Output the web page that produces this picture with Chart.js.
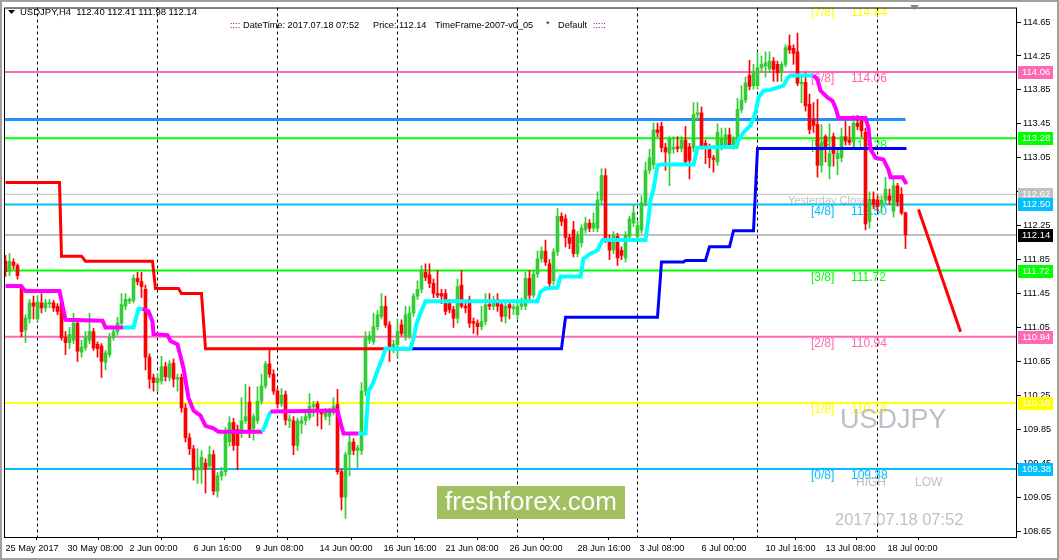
<!DOCTYPE html>
<html><head><meta charset="utf-8">
<script src="https://cdn.jsdelivr.net/npm/chart.js@4.4.1/dist/chart.umd.min.js"></script>
<style>html,body{margin:0;padding:0;background:#fff;overflow:hidden}#wrap{position:relative;width:1059px;height:560px}</style>
</head><body><div id="wrap"><canvas id="c" width="1059" height="560"></canvas></div>
<script>
// ---- Candles (H4 bars, index 0 = 25 May 2017 16:00 ... 225 = 18 Jul 2017) ----
const opens  = [111.83,111.71,111.82,111.78,111.55,111.02,111.15,111.34,111.15,111.34,111.28,111.33,111.34,111.30,111.33,110.93,110.87,110.90,111.10,110.76,110.81,110.90,111.00,110.85,110.83,110.64,110.73,110.93,111.00,111.10,111.30,111.36,111.37,111.63,111.59,111.50,110.70,110.46,110.40,110.42,110.59,110.46,110.63,110.44,110.46,110.10,109.75,109.62,109.37,109.37,109.45,109.42,109.55,109.12,109.30,109.35,109.70,109.93,109.85,109.80,109.95,110.17,109.86,109.95,110.18,110.36,110.62,110.50,110.30,110.15,110.26,109.95,109.95,109.66,109.92,109.95,109.99,110.12,110.15,110.05,110.00,110.00,110.05,110.14,109.35,109.05,109.55,109.70,109.60,109.60,110.30,110.90,110.88,111.06,111.18,111.30,111.08,110.80,110.85,111.08,110.95,110.95,111.22,111.42,111.50,111.70,111.67,111.57,111.45,111.45,111.45,111.33,111.26,111.16,111.55,111.30,111.38,111.12,111.10,111.06,111.12,111.32,111.30,111.38,111.32,111.18,111.32,111.27,111.20,111.30,111.30,111.63,111.43,111.68,111.86,111.95,111.80,111.60,111.94,112.36,112.33,112.11,112.20,111.92,112.05,112.20,112.28,112.22,112.22,112.55,112.84,112.10,111.96,112.12,111.96,111.87,112.12,112.28,112.12,112.20,112.52,112.90,112.97,113.38,113.42,113.17,113.10,113.15,113.18,113.16,113.26,113.18,113.17,113.56,113.58,113.22,113.17,113.05,113.00,113.18,113.20,113.32,113.20,113.20,113.62,113.73,114.02,113.90,113.90,114.11,114.13,114.10,114.19,114.15,114.06,114.15,114.37,114.34,114.30,113.92,113.94,113.68,113.50,113.44,112.96,113.30,112.95,113.30,113.04,113.05,113.30,113.26,113.25,113.46,113.48,113.35,112.30,112.56,112.55,112.50,112.55,112.60,112.42,112.72,112.62,112.40];
const highs  = [111.90,111.92,111.86,111.80,111.55,111.20,111.38,111.42,111.42,111.45,111.38,111.38,111.37,111.33,111.36,111.00,111.05,111.22,111.14,110.90,111.00,111.22,111.04,110.88,110.86,110.78,110.98,111.05,111.17,111.45,111.45,111.40,111.67,111.70,111.70,111.55,110.74,110.50,110.50,110.71,110.64,110.66,110.68,110.50,110.50,110.15,109.80,109.66,109.62,109.60,109.50,109.65,109.60,109.34,109.40,109.87,110.00,109.98,109.90,110.22,110.38,110.35,110.03,110.35,110.50,110.65,110.79,110.55,110.33,110.33,110.30,110.02,110.00,109.98,110.00,110.04,110.27,110.18,110.18,110.08,110.10,110.10,110.22,110.32,109.38,109.58,109.80,109.74,109.66,110.40,111.00,111.00,111.22,111.25,111.45,111.42,111.12,110.90,111.15,111.14,111.30,111.30,111.45,111.60,111.78,111.80,111.80,111.62,111.72,111.50,111.50,111.38,111.30,111.62,111.72,111.35,111.42,111.16,111.14,111.30,111.45,111.45,111.42,111.45,111.36,111.34,111.36,111.32,111.34,111.40,111.70,111.72,111.72,111.95,112.00,112.08,111.85,111.98,112.45,112.40,112.38,112.15,112.30,112.18,112.26,112.35,112.32,112.40,112.65,112.92,112.92,112.14,112.18,112.16,112.00,112.18,112.36,112.50,112.30,112.60,113.00,113.15,113.46,113.46,113.47,113.22,113.30,113.30,113.30,113.30,113.42,113.22,113.70,113.70,113.65,113.26,113.21,113.08,113.45,113.40,113.40,113.40,113.30,113.75,113.90,114.00,114.20,114.15,114.30,114.25,114.30,114.30,114.23,114.19,114.18,114.38,114.50,114.38,114.52,114.00,114.05,113.80,113.70,113.74,113.44,113.32,113.45,113.34,113.14,113.40,113.48,113.42,113.55,113.55,113.52,113.40,112.65,112.65,112.60,112.60,112.82,112.68,112.82,112.75,112.70,112.41];
const lows   = [111.65,111.66,111.74,111.62,110.94,110.87,111.10,111.15,111.12,111.22,111.24,111.28,111.24,111.20,110.90,110.73,110.80,110.86,110.65,110.70,110.78,110.86,110.78,110.70,110.46,110.55,110.70,110.90,110.96,111.08,111.26,111.33,111.34,111.55,111.40,110.55,110.33,110.30,110.30,110.38,110.42,110.42,110.35,110.30,110.05,109.70,109.55,109.25,109.21,109.21,109.10,109.38,109.08,109.05,109.25,109.30,109.65,109.60,109.37,109.75,109.92,109.75,109.72,109.92,110.15,110.33,110.46,110.26,110.10,110.12,109.90,109.87,109.55,109.60,109.80,109.90,109.96,110.00,109.89,109.85,109.96,109.90,110.02,109.32,108.90,108.80,109.30,109.55,109.40,109.55,110.25,110.86,110.85,111.02,111.15,111.05,110.65,110.75,110.70,110.95,110.90,110.92,111.18,111.38,111.46,111.60,111.52,111.40,111.40,111.33,111.20,111.22,111.05,111.10,111.28,111.22,111.05,110.98,110.96,111.02,111.08,111.26,111.26,111.24,111.12,111.10,111.15,111.20,111.15,111.26,111.26,111.38,111.40,111.64,111.82,111.78,111.52,111.55,111.90,112.25,112.00,111.98,111.88,111.88,112.00,112.16,112.18,112.18,112.18,112.50,112.05,111.85,111.92,111.78,111.85,111.82,112.08,112.24,112.08,112.16,112.48,112.86,112.92,113.30,113.12,112.90,112.72,113.10,113.12,113.12,112.96,112.80,113.12,113.50,113.15,112.98,112.93,112.88,112.96,113.14,113.16,113.16,113.15,113.16,113.58,113.70,113.85,113.86,113.86,114.06,114.00,114.06,113.95,113.95,113.95,114.12,114.28,114.15,113.90,113.70,113.60,113.33,113.35,112.82,112.88,113.00,112.80,112.95,112.85,113.00,113.20,113.20,113.15,113.38,113.30,112.20,112.22,112.45,112.42,112.40,112.50,112.50,112.35,112.48,112.38,111.98];
const closes = [111.71,111.83,111.78,111.66,111.00,111.16,111.34,111.30,111.35,111.28,111.34,111.34,111.28,111.24,110.93,110.87,110.97,111.10,110.77,110.82,110.93,111.00,110.81,110.80,110.65,110.75,110.93,111.00,111.10,111.32,111.38,111.38,111.63,111.59,111.53,110.70,110.44,110.40,110.45,110.59,110.47,110.62,110.44,110.46,110.10,109.75,109.62,109.37,109.40,109.52,109.38,109.55,109.12,109.30,109.35,109.83,109.93,109.66,109.66,109.95,110.00,109.83,110.00,110.18,110.36,110.62,110.50,110.30,110.15,110.25,109.96,109.97,109.66,109.95,109.95,110.00,110.12,110.14,110.08,110.03,110.07,110.06,110.12,109.35,109.05,109.55,109.70,109.60,109.63,110.30,110.93,110.95,111.06,111.20,111.30,111.08,110.80,110.85,111.00,110.98,111.20,111.22,111.42,111.50,111.73,111.64,111.57,111.45,111.43,111.42,111.24,111.26,111.16,111.53,111.30,111.28,111.10,111.10,111.06,111.12,111.32,111.30,111.36,111.30,111.18,111.30,111.28,111.29,111.30,111.33,111.63,111.43,111.68,111.86,111.95,111.82,111.57,111.94,112.36,112.30,112.11,112.04,111.92,112.14,112.22,112.28,112.22,112.28,112.55,112.84,112.10,111.96,112.14,111.87,111.90,112.14,112.33,112.40,112.25,112.52,112.90,113.05,113.38,113.35,113.17,113.12,113.27,113.17,113.16,113.26,113.00,113.02,113.56,113.58,113.19,113.19,113.05,113.03,113.35,113.27,113.32,113.20,113.27,113.62,113.73,113.93,113.89,114.05,114.11,114.15,114.17,114.19,114.09,114.05,114.15,114.35,114.32,114.28,113.93,113.94,113.66,113.38,113.43,112.96,113.23,113.15,113.10,113.10,113.10,113.30,113.25,113.23,113.46,113.42,113.37,112.27,112.56,112.50,112.48,112.55,112.68,112.55,112.72,112.53,112.40,112.14];

// ---- Indicator lines: vertices as [bar index, price] ----
const redIdx  = [0, 13.5, 14, 19, 20, 36.75, 37.5, 43.25, 44, 49, 50, 95];
const redVal  = [112.76,112.76,111.89,111.89,111.83,111.83,111.51,111.51,111.45,111.45,110.80,110.80];
const blueIdx = [95, 139, 140, 163, 164, 169.5, 170, 175, 176, 181, 182, 187, 188, 225.25];
const blueVal = [110.80,110.80,111.17,111.17,111.82,111.82,111.84,111.84,112.00,112.00,112.19,112.19,113.16,113.16];
const stIdx = [0,3.75,5,13.5,15,24.25,25,29.5,32,33.25,34.25,35.75,36.75,37,40.5,41.25,43,43.75,44.5,45.75,47,48.75,50,52,53.25,64.25,66.25,83,83.75,84.5,88.25,90,90.75,91.75,93,94.25,95,101.25,102,102.75,103.75,105,133,133.75,135,138,138.75,143.75,144.5,146.25,148,149.25,160,160.75,161.25,162,163,163.75,172,173,182.5,183.25,184.5,186.25,187.5,188.25,189.5,191.25,194.5,195.5,196.25,202,203,203.75,205.5,206.75,207.5,208.25,215,215.75,216.25,217.5,219.5,220.75,221.25,224.25,225.25];
const stVal = [111.54,111.54,111.48,111.48,111.14,111.13,111.05,111.05,111.05,111.27,111.27,111.24,111.12,110.97,110.96,110.89,110.85,110.71,110.57,110.22,110.07,110.01,109.89,109.86,109.82,109.82,110.06,110.07,109.93,109.80,109.80,109.80,110.30,110.38,110.54,110.69,110.80,110.80,110.92,111.09,111.22,111.36,111.36,111.47,111.51,111.52,111.65,111.65,111.86,111.92,111.96,112.08,112.08,112.33,112.55,112.68,112.96,112.97,112.97,113.17,113.18,113.26,113.35,113.43,113.58,113.76,113.84,113.85,113.90,113.99,114.02,114.02,113.97,113.84,113.76,113.72,113.64,113.52,113.52,113.40,113.15,113.05,113.03,112.91,112.82,112.82,112.74];
const stDir = [-1,-1,-1,-1,-1,-1,-1,1,1,1,-1,-1,-1,-1,-1,-1,-1,-1,-1,-1,-1,-1,-1,-1,-1,1,-1,-1,-1,-1,1,1,1,1,1,1,1,1,1,1,1,1,1,1,1,1,1,1,1,1,1,1,1,1,1,1,1,1,1,1,1,1,1,1,1,1,1,1,1,1,1,-1,-1,-1,-1,-1,-1,-1,-1,-1,-1,-1,-1,-1,-1,-1,-1];
const trendIdx = [228.25, 238.75];
const trendVal = [112.44, 111.00];

// ---- Murrey levels ----
const mmNames  = ['[7/8]','[6/8]','[5/8]','[4/8]','[3/8]','[2/8]','[1/8]','[0/8]'];
const mmVals   = [114.84,114.06,113.28,112.50,111.72,110.94,110.16,109.38];
const mmColors = ['#ffff00','#ff69b4','#00ff00','#00bfff','#00ff00','#ff69b4','#ffff00','#00bfff'];
const resistVal = 113.50;      // DodgerBlue line
const yestClose = 112.62;
const lastPrice = 112.14;

// ---- Axis labels ----
const yTickVals = [114.65,114.25,113.85,113.45,113.05,112.65,112.25,111.85,111.45,111.05,110.65,110.25,109.85,109.45,109.05,108.65];
const xLabels = ['25 May 2017','30 May 08:00','2 Jun 00:00','6 Jun 16:00','9 Jun 08:00','14 Jun 00:00','16 Jun 16:00','21 Jun 08:00','26 Jun 00:00','28 Jun 16:00','3 Jul 08:00','6 Jul 00:00','10 Jul 16:00','13 Jul 08:00','18 Jul 00:00'];
const xLabelIdx = [0,15.5,31,47,62.5,78.5,94.5,110,126,143,158.5,174,190,205,220.5];
const weekSepIdx = [8,38,68,98,128,158,188,218];

// ---- geometry of the scales ----
const X_MIN = -0.375, X_MAX = 252.875;
const Y_MAX = 114.8211, Y_MIN = 108.5799;

const GREEN = '#32cd32', RED = '#ff0000';
const FONT = 'Liberation Sans, Arial, sans-serif';
const N = opens.length;
const idx = Array.from({length:N}, (_, i) => i);
const candleColors = idx.map(i => closes[i] >= opens[i] ? GREEN : RED);
const pts = (xs, ys) => xs.map((x, k) => ({x, y: ys[k]}));
const hline = (v, x0, x1) => [{x: x0, y: v}, {x: x1, y: v}];

const lineBase = {type:'line', pointRadius:0, borderCapStyle:'butt', borderJoinStyle:'miter', tension:0, fill:false};

const datasets = [];
mmVals.forEach((v, k) => {
  if (k === 0) return;
  datasets.push({...lineBase, data: hline(v, X_MIN, X_MAX), borderColor: mmColors[k], borderWidth: 2, order: 20});
});
datasets.push({...lineBase, data: hline(yestClose, X_MIN, X_MAX), borderColor:'#c0c0c0', borderWidth:1, order: 21});
datasets.push({...lineBase, data: hline(lastPrice, X_MIN, X_MAX), borderColor:'#808080', borderWidth:1, order: 21});
datasets.push({...lineBase, data: hline(resistVal, X_MIN, N - 1), borderColor:'#1e90ff', borderWidth:3, order: 19});
datasets.push({type:'bar', data: idx.map(i => ({x:i, y:[lows[i], highs[i]]})), backgroundColor: candleColors, barThickness:1, grouped:false, borderWidth:0, order: 10});
datasets.push({type:'bar', data: idx.map(i => ({x:i, y:[opens[i], closes[i]]})), backgroundColor: candleColors, barThickness:3, grouped:false, borderWidth:0, minBarLength:1, order: 9});
datasets.push({...lineBase, data: pts(redIdx, redVal), borderColor: RED, borderWidth:3, order: 5});
datasets.push({...lineBase, data: pts(blueIdx, blueVal), borderColor:'#0000ff', borderWidth:3, order: 5});
datasets.push({...lineBase, data: pts(stIdx, stVal), borderColor:'#ff00ff', borderWidth:4, order: 4,
  segment: {borderColor: ctx => stDir[ctx.p0DataIndex] > 0 ? '#00ffff' : '#ff00ff'}});
datasets.push({...lineBase, data: pts(trendIdx, trendVal), borderColor: RED, borderWidth:3, order: 1});

const mt4 = {
  id: 'mt4',
  beforeDatasetsDraw(chart) {
    const c = chart.ctx, a = chart.chartArea, xs = chart.scales.x, ys = chart.scales.y;
    c.save();
    c.strokeStyle = '#000'; c.lineWidth = 1; c.setLineDash([3, 3]);
    weekSepIdx.forEach(i => {
      const px = Math.floor(xs.getPixelForValue(i)) + 0.5;
      c.beginPath(); c.moveTo(px, a.top); c.lineTo(px, a.bottom); c.stroke();
    });
    c.setLineDash([]);
    c.textBaseline = 'middle'; c.textAlign = 'left';
    c.font = '12px ' + FONT;
    mmVals.forEach((v, k) => {
      const y = ys.getPixelForValue(v) + 7;
      c.fillStyle = mmColors[k];
      c.fillText(mmNames[k], 811, y);
      c.fillText(v.toFixed(2), 851, y);
    });
    c.fillStyle = '#c0c0c0'; c.font = '11px ' + FONT;
    c.fillText('Yesterday Close ' + yestClose.toFixed(2), 788, ys.getPixelForValue(yestClose) + 7);
    c.fillStyle = '#bcc0c8'; c.font = '27px ' + FONT;
    c.fillText('USDJPY', 840, 421);
    c.fillStyle = '#c0c0c0'; c.font = '12px ' + FONT;
    c.fillText('HIGH', 856, 483);
    c.fillText('LOW', 915, 483);
    c.font = '16.5px ' + FONT;
    c.fillText('2017.07.18 07:52', 835, 520);
    c.restore();
  },
  afterDraw(chart) {
    const c = chart.ctx, a = chart.chartArea, ys = chart.scales.y;
    c.save();
    c.strokeStyle = '#000'; c.lineWidth = 1;
    c.strokeRect(a.left + 0.5, a.top + 0.5, a.right - a.left - 1, a.bottom - a.top);
    const boxes = [[114.06,'#ff69b4'],[113.28,'#00ff00'],[yestClose,'#c0c0c0'],[112.50,'#00bfff'],[lastPrice,'#000000'],[111.72,'#00ff00'],[110.94,'#ff69b4'],[110.16,'#ffff00'],[109.38,'#00bfff']];
    c.font = '9.5px ' + FONT; c.textBaseline = 'middle'; c.textAlign = 'left';
    boxes.forEach(([v, col]) => {
      const y = Math.round(ys.getPixelForValue(v));
      c.fillStyle = col; c.fillRect(a.right + 1, y - 6, 35, 13);
      c.fillStyle = '#fff'; c.fillText(v.toFixed(2), a.right + 5, y + 0.5);
    });
    // header
    c.fillStyle = '#000';
    c.beginPath(); c.moveTo(8, 10); c.lineTo(15, 10); c.lineTo(11.5, 14); c.closePath(); c.fill();
    c.font = '9.5px ' + FONT;
    c.fillText('USDJPY,H4  112.40 112.41 111.98 112.14', 20, 12);
    c.font = '9.2px ' + FONT;
    c.fillStyle = '#800080'; c.fillText('::::', 230, 25); c.fillText(':::::', 593, 25);
    c.fillStyle = '#000';
    c.fillText('DateTime: 2017.07.18 07:52', 243, 25);
    c.fillText('Price: 112.14', 373, 25);
    c.fillText('TimeFrame-2007-v0_05', 435, 25);
    c.fillText('*', 546, 24);
    c.fillText('Default', 558, 25);
    // shift marker
    c.fillStyle = '#778899';
    c.beginPath(); c.moveTo(910, 5); c.lineTo(919, 5); c.lineTo(914.5, 10); c.closePath(); c.fill();
    // logo
    c.fillStyle = '#a2c05f'; c.fillRect(437, 486, 188, 33);
    c.fillStyle = '#ffffff'; c.font = '26px ' + FONT; c.textAlign = 'center';
    c.fillText('freshforex.com', 531, 503);
    // window border
    c.fillStyle = '#a0a0a0';
    c.fillRect(0, 0, chart.width, 2); c.fillRect(0, 0, 2, chart.height);
    c.fillRect(0, chart.height - 2, chart.width, 2); c.fillRect(chart.width - 2, 0, 2, chart.height);
    c.restore();
  }
};

new Chart(document.getElementById('c'), {
  type: 'bar',
  data: { datasets },
  options: {
    responsive: false, animation: false, devicePixelRatio: 1,
    layout: { padding: { left: 4, top: 4, right: 0, bottom: 0 } },
    plugins: { legend: { display: false }, tooltip: { enabled: false } },
    scales: {
      x: {
        type: 'linear', min: X_MIN, max: X_MAX, offset: false,
        afterFit(s) { s.height = 23; },
        afterBuildTicks(s) { s.ticks = xLabelIdx.map(v => ({value: v})); },
        ticks: { autoSkip: false, maxRotation: 0, align: 'start', padding: 3, color: '#000',
                 font: { family: FONT, size: 9.2 }, callback: (v, i) => xLabels[i] },
        grid: { drawOnChartArea: false, drawTicks: true, tickLength: 3, color: '#000' },
        border: { display: false }
      },
      y: {
        position: 'right', min: Y_MIN, max: Y_MAX,
        afterFit(s) { s.width = 42; },
        afterBuildTicks(s) { s.ticks = yTickVals.map(v => ({value: v})); },
        ticks: { color: '#000', padding: 2, font: { family: FONT, size: 9.2 }, callback: v => Number(v).toFixed(2) },
        grid: { drawOnChartArea: false, drawTicks: true, tickLength: 4, color: '#000' },
        border: { display: false }
      }
    }
  },
  plugins: [mt4]
});
</script>
</body></html>
